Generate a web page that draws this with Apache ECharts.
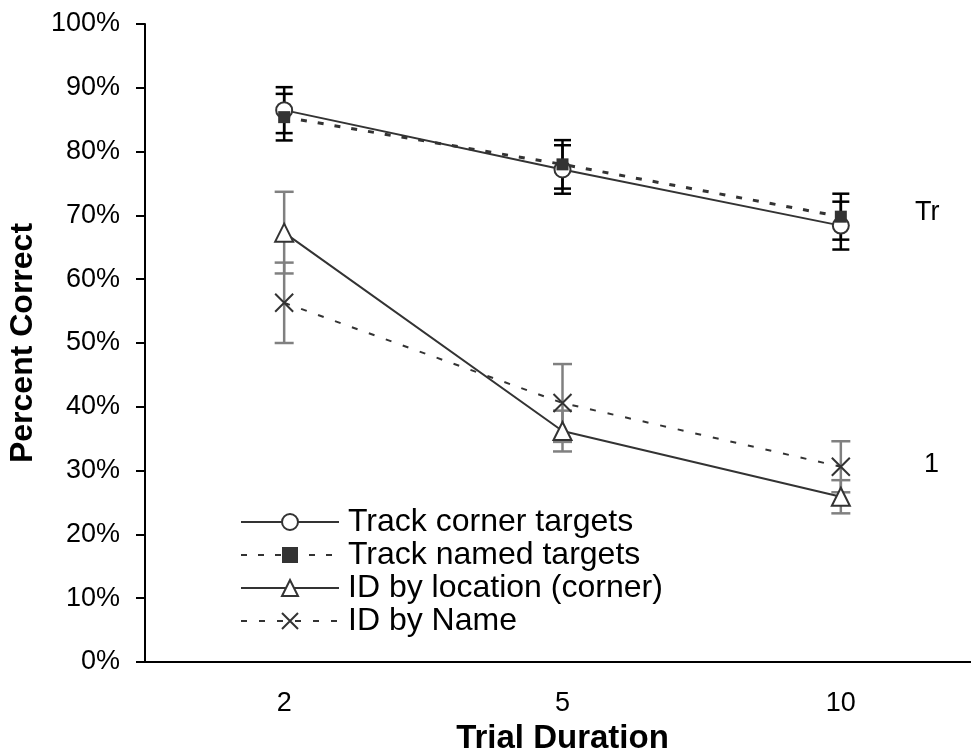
<!DOCTYPE html>
<html>
<head>
<meta charset="utf-8">
<script src="https://cdn.jsdelivr.net/npm/echarts@6/dist/echarts.min.js"></script>
<style>
html,body{margin:0;padding:0;background:#fff;}
#chart{width:971px;height:754px;}
</style>
</head>
<body>
<div id="chart"></div>
<script>
const categories = ['2', '5', '10'];
const trackCorner = [86.5, 77.2, 68.4];
const trackCornerErr = [3.6, 3.8, 3.75];
const trackNamed = [85.4, 78.0, 69.8];
const trackNamedErr = [3.65, 3.8, 3.6];
const idLocation = [67.3, 36.2, 25.9];
const idLocationErr = [6.4, 3.2, 2.6];
const idName = [56.3, 40.6, 30.6];
const idNameErr = [6.3, 6.1, 4.0];
const seriesNames = ['Track corner targets', 'Track named targets', 'ID by location (corner)', 'ID by Name'];
const yTicks = [0, 10, 20, 30, 40, 50, 60, 70, 80, 90, 100];

const FONT = '"Liberation Sans", Arial, sans-serif';
const LINE = '#333333';

function errData(means, errs) {
  return means.map((m, i) => [i, m - errs[i], m + errs[i]]);
}
function errSeries(name, means, errs, color, capW) {
  return {
    type: 'custom',
    name: name,
    z: 1,
    silent: true,
    data: errData(means, errs),
    renderItem: function (params, api) {
      const lo = api.coord([api.value(0), api.value(1)]);
      const hi = api.coord([api.value(0), api.value(2)]);
      const x = lo[0];
      const st = { stroke: color, lineWidth: 2.5 };
      return {
        type: 'group',
        children: [
          { type: 'line', shape: { x1: x, y1: hi[1], x2: x, y2: lo[1] }, style: st },
          { type: 'line', shape: { x1: x - capW / 2, y1: hi[1], x2: x + capW / 2, y2: hi[1] }, style: st },
          { type: 'line', shape: { x1: x - capW / 2, y1: lo[1], x2: x + capW / 2, y2: lo[1] }, style: st }
        ]
      };
    }
  };
}

const chart = echarts.init(document.getElementById('chart'));
chart.setOption({
  animation: false,
  backgroundColor: '#fff',
  grid: { left: 145, top: 24, bottom: 92, right: -9, containLabel: false, outerBoundsMode: 'none' },
  xAxis: {
    type: 'category',
    data: categories,
    boundaryGap: true,
    axisLine: { lineStyle: { color: '#000', width: 2 } },
    axisTick: { show: false },
    axisLabel: { color: '#000', fontSize: 27, fontFamily: FONT, margin: 28 },
    name: 'Trial Duration',
    nameLocation: 'middle',
    nameGap: 60,
    nameTextStyle: { color: '#000', fontSize: 33, fontWeight: 'bold', fontFamily: FONT }
  },
  yAxis: {
    type: 'value',
    min: 0, max: 100, interval: 10,
    axisLine: { show: true, lineStyle: { color: '#000', width: 2 } },
    axisTick: { show: true, inside: false, length: 9, lineStyle: { color: '#000', width: 2 } },
    splitLine: { show: false },
    axisLabel: { color: '#000', fontSize: 27, fontFamily: FONT, margin: 25,
      formatter: function (v) { return yTicks.indexOf(v) >= 0 ? v + '%' : ''; } },
    name: 'Percent Correct',
    nameLocation: 'middle',
    nameGap: 106,
    nameRotate: 90,
    nameTextStyle: { color: '#000', fontSize: 32, fontWeight: 'bold', fontFamily: FONT }
  },
  legend: {
    orient: 'vertical',
    left: 235,
    top: 501,
    itemWidth: 98,
    itemHeight: 20,
    itemGap: 1,
    data: seriesNames,
    textStyle: { color: '#000', fontSize: 32, fontFamily: FONT, padding: [0, 0, 0, 4] }
  },
  graphic: [
    { type: 'text', left: 915, top: 199, style: { text: 'Tr', fill: '#000', font: '27px ' + FONT } },
    { type: 'text', left: 924, top: 451, style: { text: '1', fill: '#000', font: '27px ' + FONT } }
  ],
  series: [
    errSeries('errTC', trackCorner, trackCornerErr, '#000', 17),
    errSeries('errTN', trackNamed, trackNamedErr, '#000', 17),
    errSeries('errIL', idLocation, idLocationErr, '#808080', 19),
    errSeries('errIN', idName, idNameErr, '#808080', 19),
    {
      name: seriesNames[0], type: 'line', z: 3, data: trackCorner,
      symbol: 'circle', symbolSize: 16,
      itemStyle: { color: '#fff', borderColor: LINE, borderWidth: 2 },
      lineStyle: { color: LINE, width: 2 }
    },
    {
      name: seriesNames[1], type: 'line', z: 4, data: trackNamed,
      symbol: 'rect', symbolSize: 12,
      itemStyle: { color: LINE, borderColor: LINE, borderWidth: 0 },
      lineStyle: { color: LINE, width: 3, type: [6, 11] }
    },
    {
      name: seriesNames[2], type: 'line', z: 3, data: idLocation,
      symbol: 'triangle', symbolSize: 18,
      itemStyle: { color: '#fff', borderColor: LINE, borderWidth: 2 },
      lineStyle: { color: LINE, width: 2 }
    },
    {
      name: seriesNames[3], type: 'line', z: 3, data: idName,
      symbol: 'path://M0,0L10,10M10,0L0,10', symbolSize: 18,
      itemStyle: { color: 'none', borderColor: LINE, borderWidth: 2 },
      lineStyle: { color: LINE, width: 2, type: [6, 12] }
    }
  ]
});
</script>
</body>
</html>
